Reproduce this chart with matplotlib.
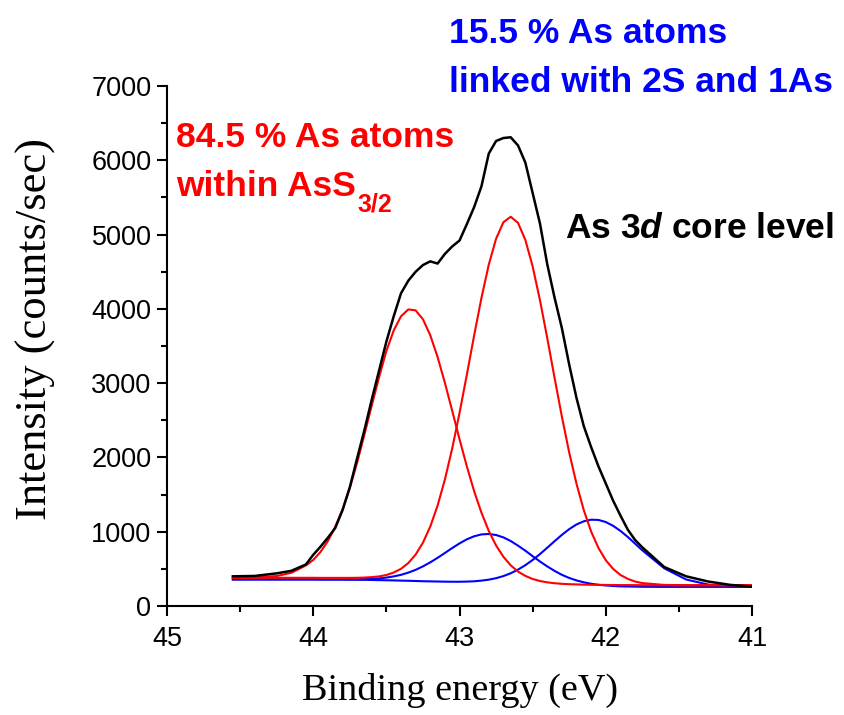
import matplotlib
matplotlib.use('Agg')
import matplotlib.pyplot as plt
from matplotlib.ticker import MultipleLocator

plt.rcParams['font.family'] = ['Liberation Sans', 'DejaVu Sans']
plt.rcParams['mathtext.fontset'] = 'custom'
plt.rcParams['mathtext.rm'] = 'Liberation Sans:bold'
plt.rcParams['mathtext.it'] = 'Liberation Sans:italic:bold'
plt.rcParams['mathtext.bf'] = 'Liberation Sans:bold'

# binding energy (eV)
energy = [44.55, 44.40, 44.25, 44.15, 44.05, 44.00, 43.95, 43.90, 43.85, 43.80,
          43.75, 43.70, 43.65, 43.60, 43.55, 43.50, 43.45, 43.40, 43.35, 43.30,
          43.25, 43.20, 43.15, 43.10, 43.05, 43.00, 42.95, 42.90, 42.85, 42.80,
          42.75, 42.70, 42.65, 42.60, 42.55, 42.50, 42.45, 42.40, 42.35, 42.30,
          42.25, 42.20, 42.15, 42.10, 42.05, 42.00, 41.95, 41.90, 41.85, 41.80,
          41.75, 41.60, 41.45, 41.30, 41.15, 41.00]

# measured spectrum (counts/sec)
measured = [400, 405, 440, 474, 560, 690, 800, 920, 1050, 1290,
            1600, 1990, 2370, 2780, 3170, 3560, 3900, 4210, 4380, 4500,
            4590, 4640, 4610, 4740, 4840, 4920, 5140, 5370, 5650, 6090,
            6260, 6300, 6310, 6200, 5970, 5560, 5150, 4600, 4150, 3740,
            3250, 2800, 2420, 2140, 1880, 1650, 1420, 1220, 1030, 890,
            790, 525, 400, 330, 285, 262]

# AsS3/2 doublet (red)
red_1 = [381, 384, 404, 447, 547, 620, 730, 875, 1065, 1300,
         1590, 1930, 2310, 2700, 3080, 3434, 3709, 3900, 3993, 3980,
         3860, 3645, 3352, 3005, 2628, 2246, 1881, 1546, 1256, 1012,
         815, 663, 548, 464, 406, 364, 337, 319, 307, 299,
         294, 291, 288, 286, 285, 284, 283, 282, 282, 281,
         281, 280, 280, 280, 280, 280]
red_2 = [380, 380, 380, 380, 380, 380, 379, 379, 379, 379,
         379, 380, 383, 389, 399, 418, 451, 501, 579, 693,
         853, 1070, 1352, 1703, 2121, 2598, 3114, 3642, 4148, 4595,
         4944, 5166, 5240, 5158, 4929, 4572, 4118, 3606, 3071, 2549,
         2067, 1645, 1289, 1003, 782, 618, 500, 419, 366, 330,
         309, 284, 280, 280, 280, 280]

# As linked with 2S and 1As doublet (blue)
blue_1 = [358, 358, 358, 358, 358, 358, 357, 357, 357, 358,
          358, 359, 362, 366, 372, 383, 399, 420, 450, 487,
          534, 588, 649, 714, 781, 843, 898, 939, 964, 970,
          956, 924, 875, 813, 745, 671, 600, 533, 473, 420,
          378, 345, 319, 300, 286, 277, 270, 265, 263, 261,
          259, 258, 258, 258, 258, 258]
blue_2 = [358, 358, 358, 358, 358, 358, 357, 357, 357, 356,
          355, 354, 353, 351, 349, 347, 345, 342, 340, 337,
          334, 332, 330, 328, 327, 327, 329, 333, 342, 355,
          375, 403, 441, 490, 550, 620, 699, 785, 873, 958,
          1035, 1098, 1141, 1162, 1159, 1131, 1080, 1012, 931, 841,
          750, 508, 357, 289, 265, 259]

fig = plt.figure(figsize=(8.44, 7.15), dpi=100)
ax = fig.add_axes([0.1979, 0.1524, 0.6931, 0.7273])

ax.plot(energy, blue_1, color='#0000ff', lw=1.5)
ax.plot(energy, blue_2, color='#0000ff', lw=1.5)
ax.plot(energy, red_1, color='#ff0000', lw=1.5)
ax.plot(energy, red_2, color='#ff0000', lw=1.5)
ax.plot(energy, measured, color='black', lw=1.8)

ax.set_xlim(45, 41)
ax.set_ylim(0, 7000)
ax.xaxis.set_major_locator(MultipleLocator(1))
ax.xaxis.set_minor_locator(MultipleLocator(0.5))
ax.yaxis.set_major_locator(MultipleLocator(1000))
ax.yaxis.set_minor_locator(MultipleLocator(500))

for s in ['top', 'right']:
    ax.spines[s].set_visible(False)
for s in ['left', 'bottom']:
    ax.spines[s].set_linewidth(1.5)

ax.tick_params(which='major', direction='out', length=7.2, width=1.5, labelsize=19.5)
ax.tick_params(which='minor', direction='out', length=4.3, width=1.5)
ax.tick_params(axis='x', which='major', pad=7)
ax.tick_params(axis='y', which='major', pad=4)

serif = ['Liberation Serif', 'DejaVu Serif']
ax.set_xlabel('Binding energy (eV)', family=serif, fontsize=27.5)
ax.set_ylabel('Intensity (counts/sec)', family=serif, fontsize=32)
ax.xaxis.set_label_coords(0.5, -0.129)
ax.yaxis.set_label_coords(-0.19, 0.533)

W, H = 844, 715
txt = dict(fontsize=25.5, fontweight='bold', va='baseline', ha='left')
fig.text(176 / W, 1 - 147 / H, '84.5 % As atoms', color='#ff0000', **txt)
fig.text(176 / W, 1 - 196 / H, 'within AsS', color='#ff0000', **txt)
fig.text(357 / W, 1 - 212 / H, '3/2', color='#ff0000', fontsize=18,
         fontweight='bold', va='baseline', ha='left')
fig.text(449 / W, 1 - 43 / H, '15.5 % As atoms', color='#0000ff', **txt)
fig.text(449 / W, 1 - 91.5 / H, 'linked with 2S and 1As', color='#0000ff', **txt)
fig.text(565 / W, 1 - 238 / H, 'As 3$d$ core level', color='black', **txt)

fig.savefig('out.png', dpi=100)
